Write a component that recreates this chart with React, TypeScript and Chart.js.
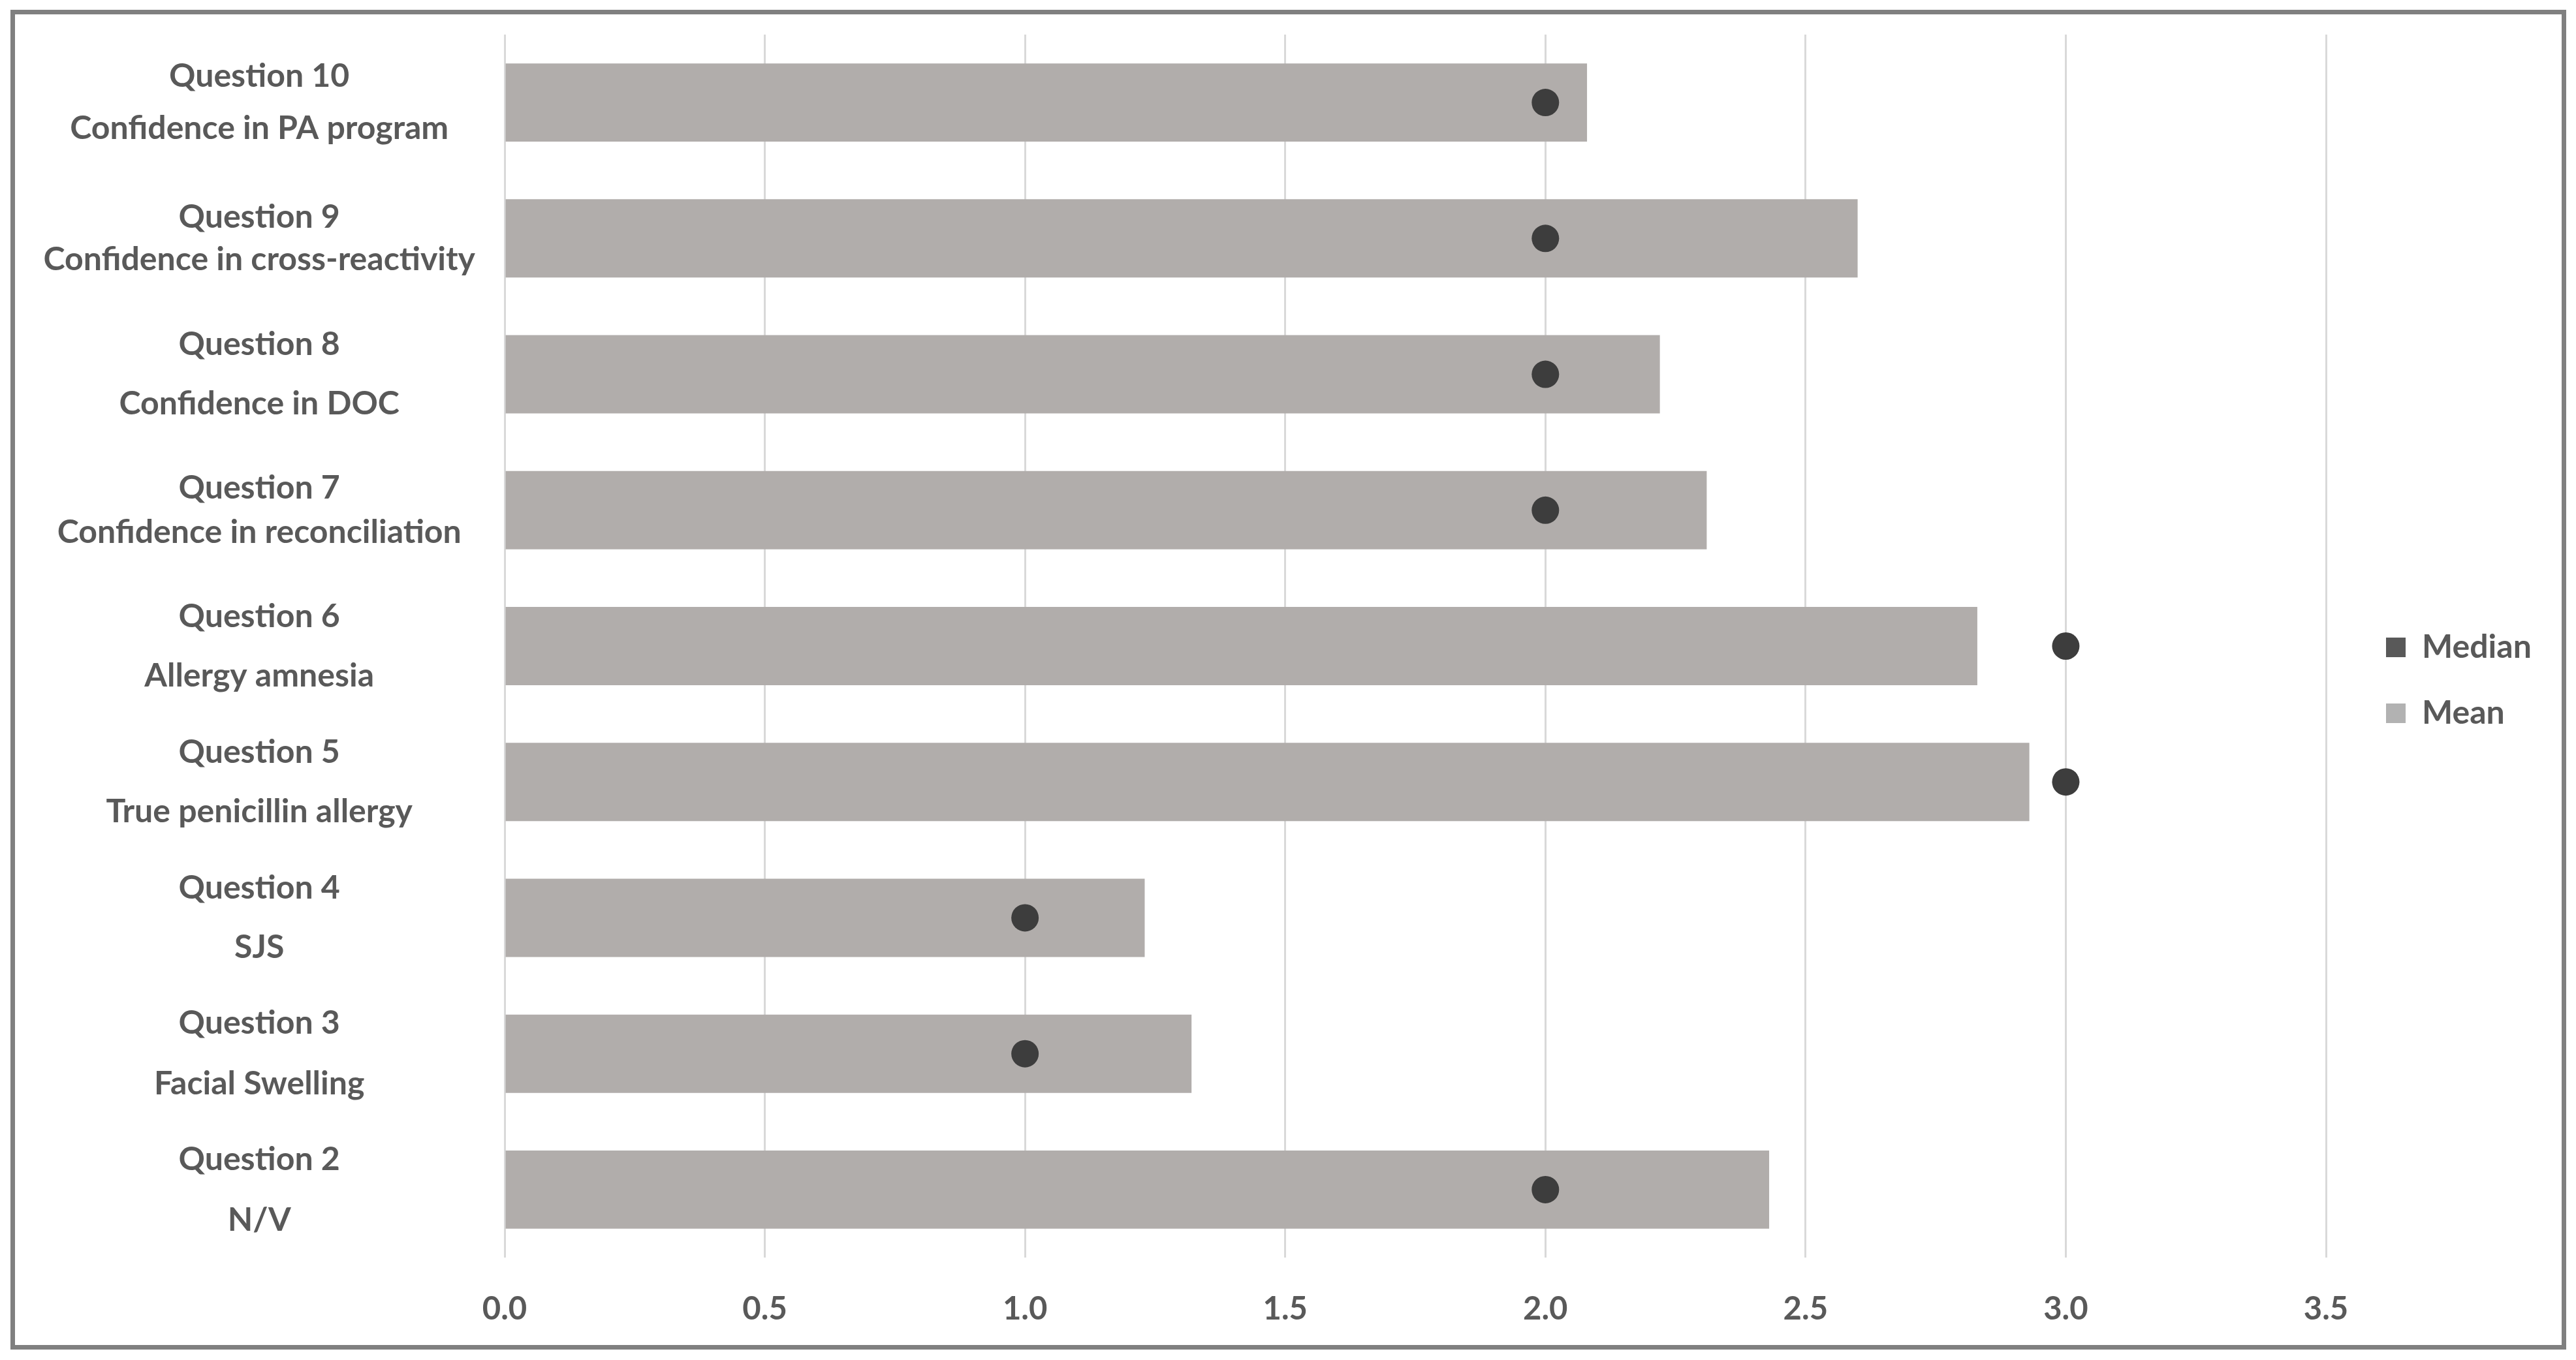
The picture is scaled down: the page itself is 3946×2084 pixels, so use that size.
import React, { useEffect, useRef } from "react";
import { Chart, registerables } from "chart.js";

Chart.register(...registerables);

const questionLabels: string[][] = [
  ["Question 10", "Confidence in PA program"],
  ["Question 9", "Confidence in cross-reactivity"],
  ["Question 8", "Confidence in DOC"],
  ["Question 7", "Confidence in reconciliation"],
  ["Question 6", "Allergy amnesia"],
  ["Question 5", "True penicillin allergy"],
  ["Question 4", "SJS"],
  ["Question 3", "Facial Swelling"],
  ["Question 2", "N/V"],
];

const meanValues: number[] = [2.08, 2.6, 2.22, 2.31, 2.83, 2.93, 1.23, 1.32, 2.43];
const medianValues: number[] = [2, 2, 2, 2, 3, 3, 1, 1, 2];

const xTickMin = 0;
const xTickMax = 3.5;
const xTickStep = 0.5;

// styling: per-label line spacing (px) as seen in the reference
const labelLineGaps: number[] = [80, 65, 91, 68, 91, 91, 91, 93, 93];

const FONT = "Lato, 'Open Sans', sans-serif";
const TEXT = "#595959";
const LEGEND_FONT_SIZE = 50;
const LEGEND_PAD = 51;
const LEGEND_BOX = 30;

const framePlugin = {
  id: "frame",
  afterDraw(chart: any) {
    const ctx = chart.ctx;
    ctx.save();
    ctx.strokeStyle = "#808080";
    ctx.lineWidth = 7;
    ctx.strokeRect(19.5, 18.5, 3908, 2046);
    ctx.restore();
  },
};

export default function App() {
  const ref = useRef<HTMLCanvasElement | null>(null);

  useEffect(() => {
    if (!ref.current) return;
    const mctx = ref.current.getContext("2d") as CanvasRenderingContext2D;
    mctx.font = `bold ${LEGEND_FONT_SIZE}px ${FONT}`;
    const tw = Math.max(mctx.measureText("Median").width, mctx.measureText("Mean").width);
    const legendWidth = LEGEND_PAD + LEGEND_BOX + LEGEND_FONT_SIZE / 2 + tw + 10;
    const rightPad = Math.max(0, 3946 - 3563 - 41 - legendWidth);

    const chart = new Chart(ref.current, {
      type: "bar",
      data: {
        labels: questionLabels as any,
        datasets: [
          {
            type: "line",
            label: "Median",
            data: medianValues,
            indexAxis: "y",
            showLine: false,
            pointRadius: 21,
            pointHoverRadius: 21,
            pointBackgroundColor: "#3d3d3d",
            pointBorderWidth: 0,
            backgroundColor: "#3d3d3d",
            borderColor: "#3d3d3d",
            order: 0,
          } as any,
          {
            type: "bar",
            label: "Mean",
            data: meanValues,
            backgroundColor: "#b1adab",
            borderWidth: 0,
            barPercentage: 0.576,
            categoryPercentage: 1,
            order: 1,
          } as any,
        ],
      },
      options: {
        indexAxis: "y",
        responsive: false,
        animation: false,
        devicePixelRatio: 1,
        layout: { padding: { top: 53, left: 21, right: rightPad, bottom: 52 } },
        scales: {
          x: {
            type: "linear",
            min: xTickMin,
            max: xTickMax,
            grid: { color: "#d9d9d9", lineWidth: 3, drawTicks: false },
            border: { display: false },
            ticks: {
              stepSize: xTickStep,
              padding: 50,
              color: TEXT,
              font: { family: FONT, size: 49, weight: "bold" },
              callback: (v: any) => Number(v).toFixed(1),
            },
            afterFit: (s: any) => {
              s.height = 105;
              s.paddingLeft = 0;
              s.paddingRight = 0;
            },
          },
          y: {
            type: "category",
            grid: { display: false, drawTicks: false },
            border: { display: false },
            ticks: {
              padding: 45,
              crossAlign: "center",
              color: TEXT,
              font: (c: any) => ({
                family: FONT,
                size: 50,
                weight: "bold",
                lineHeight: labelLineGaps[c.index] + "px",
              }),
            },
            afterFit: (s: any) => {
              s.width = 752;
              s.paddingTop = 0;
              s.paddingBottom = 0;
            },
          },
          pad: {
            type: "linear",
            position: "right",
            display: true,
            grid: { display: false, drawTicks: false },
            border: { display: false },
            ticks: { display: false },
            afterFit: (s: any) => {
              s.width = 41;
              s.paddingTop = 0;
              s.paddingBottom = 0;
            },
          },
        } as any,
        plugins: {
          tooltip: { enabled: false },
          legend: {
            position: "right",
            align: "center",
            labels: {
              boxWidth: LEGEND_BOX,
              boxHeight: LEGEND_BOX,
              padding: LEGEND_PAD,
              color: TEXT,
              font: { family: FONT, size: LEGEND_FONT_SIZE, weight: "bold" },
              generateLabels: (ch: any) => {
                const items = Chart.defaults.plugins.legend.labels.generateLabels(ch);
                const fills: Record<string, string> = { Median: "#595959", Mean: "#b2b2b2" };
                return items.map((it: any) => ({
                  ...it,
                  fillStyle: fills[it.text] || it.fillStyle,
                  strokeStyle: fills[it.text] || it.strokeStyle,
                  lineWidth: 0,
                  pointStyle: undefined,
                }));
              },
            },
          } as any,
        },
      },
      plugins: [framePlugin],
    });
    return () => chart.destroy();
  }, []);

  return (
    <div style={{ position: "fixed", left: 0, top: 0, width: 3946, height: 2084, background: "#fff" }}>
      <canvas ref={ref} width={3946} height={2084} style={{ display: "block", width: 3946, height: 2084 }} />
    </div>
  );
}
